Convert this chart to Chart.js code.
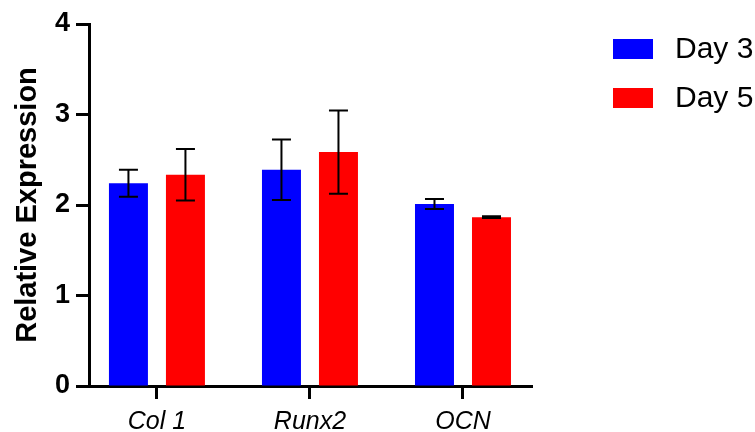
<!DOCTYPE html>
<html>
<head>
<meta charset="utf-8">
<script src="https://cdn.jsdelivr.net/npm/chart.js@4.4.1/dist/chart.umd.min.js"></script>
<style>
  html, body { margin: 0; padding: 0; background: #ffffff; }
  #wrap { width: 755px; height: 432px; }
</style>
</head>
<body>
<div id="wrap"><canvas id="c" width="755" height="432"></canvas></div>
<script>
const categories = ['Col 1', 'Runx2', 'OCN'];
const seriesNames = ['Day 3', 'Day 5'];
const day3Values = [2.24, 2.39, 2.01];
const day3Errors = [0.15, 0.335, 0.055];
const day5Values = [2.335, 2.585, 1.865];
const day5Errors = [0.285, 0.46, 0.01];
const yTicks = [0, 1, 2, 3, 4];
const seriesColors = ['#0000FF', '#FF0000'];

const FONT = "'Liberation Sans', Arial, Helvetica, sans-serif";

const errorBarPlugin = {
  id: 'errorBars',
  afterDatasetsDraw(chart) {
    const ctx = chart.ctx;
    const yScale = chart.scales.y;
    ctx.save();
    ctx.strokeStyle = '#000000';
    ctx.lineWidth = 2;
    chart.data.datasets.forEach((ds, i) => {
      const meta = chart.getDatasetMeta(i);
      meta.data.forEach((bar, j) => {
        const v = ds.data[j].y;
        const e = ds.errors[j];
        const x = bar.x;
        const yTop = yScale.getPixelForValue(v + e);
        const yBot = yScale.getPixelForValue(v - e);
        const cap = 9.5;
        ctx.beginPath();
        ctx.moveTo(x, yTop); ctx.lineTo(x, yBot);
        ctx.moveTo(x - cap, yTop); ctx.lineTo(x + cap, yTop);
        ctx.moveTo(x - cap, yBot); ctx.lineTo(x + cap, yBot);
        ctx.stroke();
      });
    });
    ctx.restore();
  }
};

const legendPlugin = {
  id: 'customLegend',
  afterDraw(chart) {
    const ctx = chart.ctx;
    ctx.save();
    chart.data.datasets.forEach((ds, i) => {
      const bx = 613, by = 39 + i * 49;
      ctx.fillStyle = ds.backgroundColor;
      ctx.fillRect(bx, by, 40, 20);
      ctx.fillStyle = '#000000';
      ctx.font = '30px ' + FONT;
      ctx.textBaseline = 'middle';
      ctx.textAlign = 'left';
      ctx.fillText(ds.label, 675, by + 11);
    });
    ctx.restore();
  }
};

const datasets = [day3Values, day5Values].map((vals, i) => ({
  label: seriesNames[i],
  data: vals.map((v, j) => ({ x: j, y: v })),
  errors: i === 0 ? day3Errors : day5Errors,
  backgroundColor: seriesColors[i],
  borderWidth: 0,
  categoryPercentage: 0.745,
  barPercentage: 0.684
}));

new Chart(document.getElementById('c'), {
  type: 'bar',
  data: { datasets },
  plugins: [errorBarPlugin, legendPlugin],
  options: {
    responsive: false,
    animation: false,
    devicePixelRatio: 1,
    layout: { padding: { left: 0, right: 223, top: 24, bottom: 0 } },
    plugins: {
      legend: { display: false },
      tooltip: { enabled: false }
    },
    scales: {
      x: {
        type: 'linear',
        min: -0.444,
        max: 2.451,
        offset: false,
        afterBuildTicks(axis) {
          axis.ticks = categories.map((c, i) => ({ value: i }));
        },
        afterFit(scale) { scale.height = 46; },
        ticks: {
          stepSize: 1,
          autoSkip: false,
          maxRotation: 0,
          padding: 8,
          color: '#000000',
          font: { family: FONT, size: 25, style: 'italic' },
          callback: (v) => categories[v]
        },
        grid: {
          offset: false,
          drawOnChartArea: false,
          drawTicks: true,
          tickLength: 13,
          tickWidth: 3,
          tickColor: '#000000'
        },
        border: { display: true, width: 3, color: '#000000' }
      },
      y: {
        min: 0,
        max: 4,
        afterBuildTicks(axis) {
          axis.ticks = yTicks.map(v => ({ value: v }));
        },
        afterFit(scale) { scale.width = 89; },
        ticks: {
          stepSize: 1,
          padding: 6,
          color: '#000000',
          font: { family: FONT, size: 27, weight: 'bold' }
        },
        grid: {
          drawOnChartArea: false,
          drawTicks: true,
          tickLength: 13,
          tickWidth: 3,
          tickColor: '#000000'
        },
        border: { display: true, width: 3, color: '#000000' },
        title: {
          display: true,
          text: 'Relative Expression',
          color: '#000000',
          font: { family: FONT, size: 29, weight: 'bold' },
          padding: { top: 11, bottom: 0 }
        }
      }
    }
  }
});
</script>
</body>
</html>
